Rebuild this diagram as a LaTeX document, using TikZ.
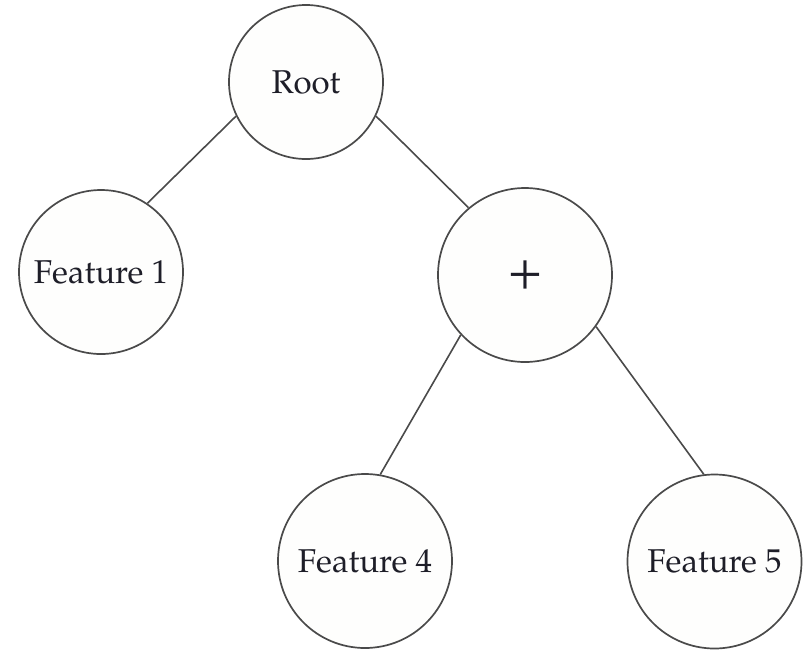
\documentclass[tikz,border=0pt]{standalone}
\usepackage[T1]{fontenc}
\usepackage{mathpazo}
\definecolor{edgegray}{HTML}{4A4A4A}
\definecolor{nodefill}{HTML}{FEFEFD}
\definecolor{txt}{HTML}{1E1E28}
\begin{document}
\begin{tikzpicture}[x=1pt,y=-1pt,
  treenode/.style={circle,draw=edgegray,fill=nodefill,line width=1.7pt,inner sep=0pt,text=txt,font=\fontsize{33}{38}\selectfont},
  treeedge/.style={draw=edgegray,line width=1.6pt}]
\useasboundingbox (0,0) rectangle (807,649);
\fill[white] (0,0) rectangle (807,649);
\node[treenode,minimum size=154pt] (root) at (306,82) {Root};
\node[treenode,minimum size=164pt] (f1) at (101,272) {Feature 1};
\node[treenode,minimum size=174pt] (plus) at (525,275) {\fontsize{56}{60}\selectfont +};
\node[treenode,minimum size=174pt] (f4) at (365,561) {Feature 4};
\node[treenode,minimum size=174pt] (f5) at (714.5,561.5) {Feature 5};
\draw[treeedge] (root.206) -- (f1.56);
\draw[treeedge] (root.334) -- (plus.130);
\draw[treeedge] (plus.223) -- (f4.80);
\draw[treeedge] (plus.324) -- (f5.97);
\end{tikzpicture}
\end{document}
